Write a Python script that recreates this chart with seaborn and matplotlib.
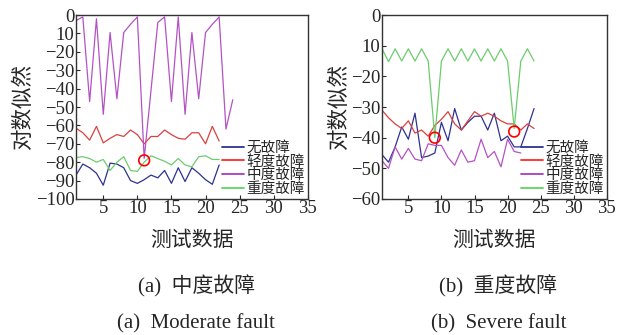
import numpy as np
import pandas as pd
import matplotlib
matplotlib.use("Agg")
import matplotlib.pyplot as plt
import seaborn as sns

sns.set_style("ticks")
plt.rcParams['font.family'] = ['Liberation Serif', 'Noto Sans CJK SC']
plt.rcParams['axes.unicode_minus'] = True

# data
series_names = ["无故障", "轻度故障", "中度故障", "重度故障"]
colors = ["#2e3192", "#d9413f", "#b452c4", "#6dcc6d"]
legend_colors = ["#2e3192", "#ff2a2a", "#a63fc0", "#5fd45f"]

x_left = list(range(1, 25))
left_none = [-87, -81, -83, -86, -92.5, -80.5, -81, -83, -90, -91.5, -89.5, -87,
             -88.5, -84.5, -91.5, -83, -90.5, -83, -86, -89.5, -92, -81.5, np.nan, np.nan]
left_light = [-61.5, -64, -68, -60.5, -69.5, -67, -65, -66, -62.5, -65, -70, -66,
              -66, -62.5, -65, -67, -67.5, -64, -64, -70, -60.5, -68.5, np.nan, np.nan]
left_moderate = [-3, -1, -47, -2, -54, -9.5, -45.5, -9.5, -5, -1, -78, -41,
                 -4, -1, -47, -1, -54, -9.5, -45.5, -9.5, -5, -1, -62, -46]
left_severe = [-77.5, -77, -78, -80, -78.5, -84.5, -80, -77, -84.5, -85, -80, -76.5,
               -78, -79.5, -81.5, -78, -81.5, -82.5, -77, -76.5, -78.5, -78.5, np.nan, np.nan]
left_circles_x = [11]
left_circles_y = [-79]

x_right = list(range(1, 25))
right_none = [-45.5, -48, -43, -36.5, -40.5, -32, -46.5, -46, -45, -35, -41, -30.5,
              -37.5, -35, -33, -33, -37.5, -32, -41, -39.5, -43, -43, -37, -30.5]
right_light = [-31, -33.5, -35.5, -37, -34.5, -38.5, -37.5, -39.5, -36, -34, -31.5, -35.5,
               -37.5, -34.5, -31.5, -33, -32, -33, -34.5, -35.5, -35.5, -37.5, -35.5, -37]
right_moderate = [-47.5, -50, -43, -47, -43.5, -47, -47.5, -42, -42.5, -42.5, -46.5, -49,
                  -44, -48, -47.5, -40.5, -46.5, -44.5, -49.5, -40.5, -44.5, -45, np.nan, np.nan]
right_severe = [-10.9, -15.2, -11, -15, -11, -15, -11, -15, -40, -15, -11, -15,
                -11, -15, -11, -15, -11, -15, -11, -15, -37, -15, -11, -15]
right_circles_x = [9, 21]
right_circles_y = [-40, -38]

left_ticks = [0, -10, -20, -30, -40, -50, -60, -70, -80, -90, -100]
left_ticklabels = ["0", "10", "−20", "−30", "−40", "−50", "−60", "−70", "−80", "−90", "−100"]
right_ticks = [0, -10, -20, -30, -40, -50, -60]
right_ticklabels = ["0", "10", "−20", "−30", "−40", "−50", "−60"]
x_ticks = [5, 10, 15, 20, 25, 30, 35]


def draw(ax, x, ys, cx, cy, yticks, yticklabels, ylim):
    for name, y, c in zip(series_names, ys, colors):
        df = pd.DataFrame({"x": x, "y": y}).dropna()
        sns.lineplot(data=df, x="x", y="y", ax=ax, color=c, lw=0.9, label=None)
    ax.scatter(cx, cy, s=60, facecolors="none", edgecolors="red", linewidths=1.2, zorder=5)
    ax.set_xlim(1, 35)
    ax.set_ylim(*ylim)
    ax.set_xticks(x_ticks)
    ax.set_xticklabels([str(t) for t in x_ticks], fontsize=13.5)
    ax.set_yticks(yticks)
    ax.set_yticklabels(yticklabels, fontsize=13.5)
    ax.tick_params(direction="in", length=3, width=0.8, pad=1)
    for s in ax.spines.values():
        s.set_linewidth(1.0)
        s.set_color("#333333")
    ax.set_xlabel("测试数据", fontsize=15, labelpad=10)
    ax.set_ylabel("对数似然", fontsize=15.5, labelpad=1)
    handles = [plt.Line2D([], [], color=c, lw=1.3) for c in legend_colors]
    ax.legend(handles, series_names, loc="lower right", frameon=False, fontsize=10.5,
              handlelength=1.5, handletextpad=0.15, labelspacing=0.0,
              borderaxespad=0.1, borderpad=0.1, bbox_to_anchor=(1.0, 0.0))


fig = plt.figure(figsize=(6.23, 3.35), dpi=100)
ax1 = fig.add_axes([0.122, 0.406, 0.372, 0.549])
ax2 = fig.add_axes([0.613, 0.406, 0.361, 0.549])

draw(ax1, x_left, [left_none, left_light, left_moderate, left_severe],
     left_circles_x, left_circles_y, left_ticks, left_ticklabels, (-100, 0))
draw(ax2, x_right, [right_none, right_light, right_moderate, right_severe],
     right_circles_x, right_circles_y, right_ticks, right_ticklabels, (-60, 0))

fig.text(0.315, 0.146, "(a)  中度故障", ha="center", va="center", fontsize=15)
fig.text(0.800, 0.146, "(b)  重度故障", ha="center", va="center", fontsize=15)
fig.text(0.315, 0.033, "(a)  Moderate fault", ha="center", va="center", fontsize=15)
fig.text(0.800, 0.033, "(b)  Severe fault", ha="center", va="center", fontsize=15)

fig.savefig("out.png", dpi=100)
